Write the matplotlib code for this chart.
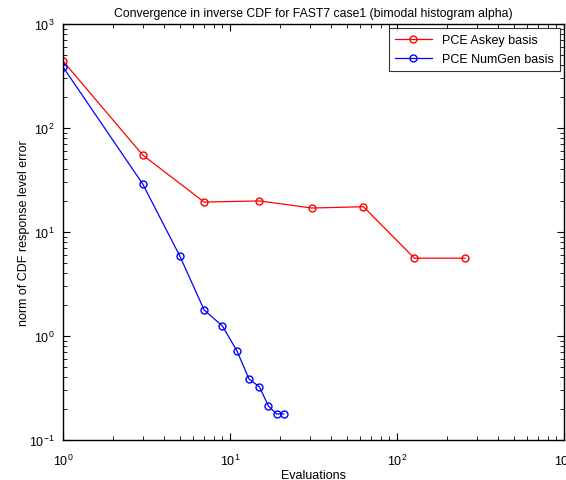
import matplotlib
matplotlib.use('Agg')
import matplotlib.pyplot as plt

plt.rcParams['font.family'] = ['Liberation Sans', 'DejaVu Sans']
plt.rcParams['mathtext.fontset'] = 'custom'
plt.rcParams['mathtext.rm'] = 'Liberation Sans'
plt.rcParams['axes.unicode_minus'] = False

# --- data ---
askey_evals = [1, 3, 7, 15, 31, 63, 127, 255]
askey_error = [441, 55, 19.4, 19.9, 17.0, 17.5, 5.6, 5.6]

numgen_evals = [1, 3, 5, 7, 9, 11, 13, 15, 17, 19, 21]
numgen_error = [386, 29, 5.9, 1.78, 1.25, 0.72, 0.386, 0.324, 0.212, 0.178, 0.178]

fig = plt.figure(figsize=(5.66, 4.81), dpi=100)
ax = fig.add_axes([63 / 566, 1 - 441 / 481, (564 - 63) / 566, (441 - 25) / 481])

ax.loglog(askey_evals, askey_error, color='red', marker='o', mfc='none',
          markersize=5, linewidth=0.9, label='PCE Askey basis')
ax.loglog(numgen_evals, numgen_error, color='blue', marker='o', mfc='none',
          markersize=5, linewidth=0.9, label='PCE NumGen basis')

ax.set_xlim(1, 1000)
ax.set_ylim(0.1, 1000)

ax.tick_params(which='both', direction='in', top=True, right=True, labelsize=9)
ax.tick_params(which='major', length=5)
ax.tick_params(which='minor', length=3)
ax.tick_params(axis='x', which='major', pad=9)
ax.tick_params(axis='y', which='major', pad=6)
for s in ax.spines.values():
    s.set_linewidth(1.0)

ax.set_title('Convergence in inverse CDF for FAST7 case1 (bimodal histogram alpha)',
             fontsize=8.8, pad=6)
ax.set_xlabel('Evaluations', fontsize=9, labelpad=1)
ax.set_ylabel('norm of CDF response level error', fontsize=9)
ax.yaxis.set_label_coords(-0.066, 0.5)

leg = ax.legend(loc='upper right', fontsize=9, fancybox=False, edgecolor='black',
                borderaxespad=0.35, handlelength=3, borderpad=0.45, labelspacing=0.55)
leg.get_frame().set_linewidth(0.8)

plt.savefig('out.png', dpi=100)
